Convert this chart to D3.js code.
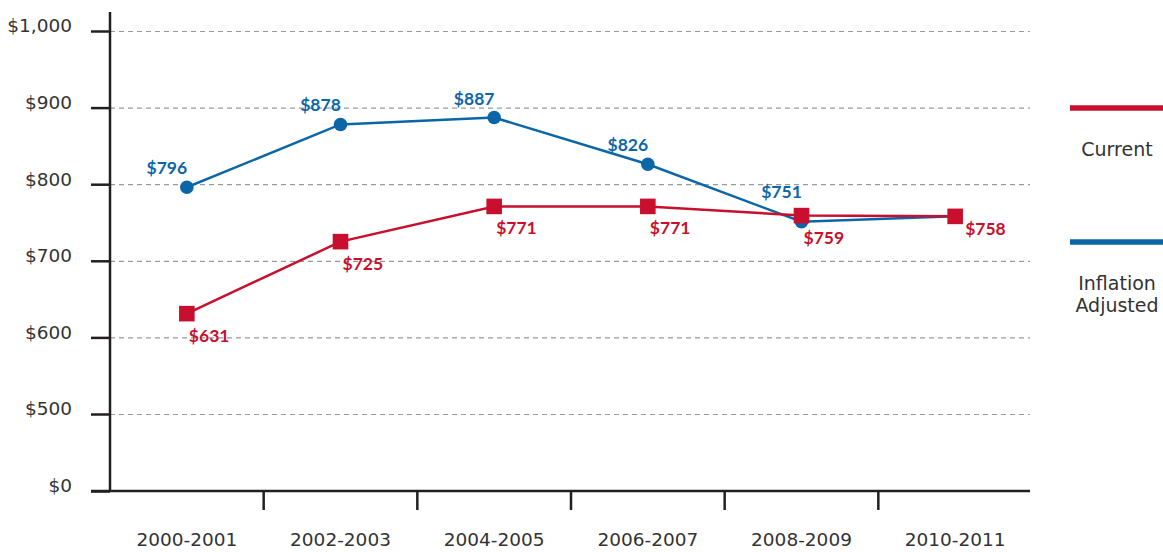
<!DOCTYPE html>
<html>
<head>
<meta charset="utf-8">
<script src="https://cdn.jsdelivr.net/npm/d3@7"></script>
<style>
  body { margin: 0; background: #fff; }
  svg { display: block; }
  .tick text { font-family: "DejaVu Sans", sans-serif; font-size: 18.5px; fill: #333; }
  .grid line { stroke: #9a9a9a; stroke-dasharray: 5,4; stroke-width: 1.2; }
  .grid .domain { display: none; }
  .val { font-family: Lato, sans-serif; font-weight: bold; font-size: 17.5px; }
  .legend text { font-family: "DejaVu Sans", sans-serif; font-size: 19px; fill: #333; }
</style>
</head>
<body>
<div id="chart"></div>
<script>
// data
var years = ["2000-2001", "2002-2003", "2004-2005", "2006-2007", "2008-2009", "2010-2011"];
var current = [631, 725, 771, 771, 759, 758];
var adjusted = [796, 878, 887, 826, 751, 758];
var yTicks = [0, 500, 600, 700, 800, 900, 1000];

var W = 1163, H = 552;
var axisColor = "#231f20",
    red = "#c8102e",
    blue = "#0b66a8";

var svg = d3.select("#chart").append("svg")
    .attr("width", W)
    .attr("height", H);

// x: one band per school year
var x = d3.scaleBand().domain(years).range([110, 1032]);

// y has a break: $0 sits one step below $500
var y = d3.scaleLinear().domain([0, 500, 1000]).range([491, 414, 31]);

var fmt = function(d) { return "$" + d3.format(",")(d); };

// gridlines
svg.append("g")
    .attr("class", "grid")
    .attr("transform", "translate(110,0)")
    .call(d3.axisRight(y).tickValues(yTicks.slice(1)).tickSize(920).tickFormat(""));

// y axis
var yAxis = svg.append("g")
    .attr("transform", "translate(110,0)")
    .call(d3.axisLeft(y).tickValues(yTicks).tickSize(19).tickPadding(19).tickFormat(fmt));
yAxis.select(".domain").remove();
yAxis.selectAll(".tick line").attr("stroke", axisColor).attr("stroke-width", 2.5);
yAxis.selectAll(".tick text").attr("dy", "0.05em");
svg.append("line")
    .attr("x1", 110).attr("x2", 110)
    .attr("y1", 12).attr("y2", y(0))
    .attr("stroke", axisColor).attr("stroke-width", 2.5);

// x axis
var xAxis = svg.append("g")
    .attr("transform", "translate(0," + y(0) + ")")
    .call(d3.axisBottom(x).tickSize(0).tickPadding(42));
xAxis.select(".domain").remove();
xAxis.append("line")
    .attr("x1", 91).attr("x2", 1030)
    .attr("stroke", axisColor).attr("stroke-width", 2.5);
xAxis.selectAll("line.sep")
    .data(years.slice(1))
    .enter().append("line")
    .attr("class", "sep")
    .attr("x1", function(d) { return x(d); })
    .attr("x2", function(d) { return x(d); })
    .attr("y1", 0).attr("y2", 19)
    .attr("stroke", axisColor).attr("stroke-width", 2.5);

var cx = function(d, i) { return x(years[i]) + x.bandwidth() / 2; };

var line = d3.line()
    .x(function(d, i) { return cx(d, i); })
    .y(function(d) { return y(d); });

// inflation adjusted series
svg.append("path")
    .datum(adjusted)
    .attr("fill", "none")
    .attr("stroke", blue)
    .attr("stroke-width", 2.5)
    .attr("d", line);
svg.selectAll("circle.adj")
    .data(adjusted)
    .enter().append("circle")
    .attr("class", "adj")
    .attr("cx", cx)
    .attr("cy", function(d) { return y(d); })
    .attr("r", 6.8)
    .attr("fill", blue);

// current dollars series
svg.append("path")
    .datum(current)
    .attr("fill", "none")
    .attr("stroke", red)
    .attr("stroke-width", 2.5)
    .attr("d", line);
svg.selectAll("rect.cur")
    .data(current)
    .enter().append("rect")
    .attr("class", "cur")
    .attr("x", function(d, i) { return cx(d, i) - 7.8; })
    .attr("y", function(d) { return y(d) - 7.8; })
    .attr("width", 15.6)
    .attr("height", 15.6)
    .attr("fill", red);

// value labels
svg.selectAll("text.adjv")
    .data(adjusted.slice(0, 5))
    .enter().append("text")
    .attr("class", "val adjv")
    .attr("x", function(d, i) { return cx(d, i) - 20; })
    .attr("y", function(d, i) { return y(d) - (i == 4 ? 24 : 13); })
    .attr("text-anchor", "middle")
    .attr("fill", blue)
    .text(fmt);

svg.selectAll("text.curv")
    .data(current)
    .enter().append("text")
    .attr("class", "val curv")
    .attr("x", function(d, i) { return cx(d, i) + (i == 5 ? 10 : 2); })
    .attr("y", function(d, i) { return y(d) + (i == 5 ? 19 : 28); })
    .attr("fill", red)
    .text(fmt);

// legend
var legend = svg.append("g").attr("class", "legend");
var items = [
    {color: red, y: 108, lines: ["Current"]},
    {color: blue, y: 242, lines: ["Inflation", "Adjusted"]}
];
items.forEach(function(it) {
    legend.append("line")
        .attr("x1", 1070).attr("x2", 1163)
        .attr("y1", it.y).attr("y2", it.y)
        .attr("stroke", it.color).attr("stroke-width", 5.5);
    it.lines.forEach(function(t, j) {
        legend.append("text")
            .attr("x", 1117)
            .attr("y", it.y + 48 + j * 22)
            .attr("text-anchor", "middle")
            .text(t);
    });
});
</script>
</body>
</html>
